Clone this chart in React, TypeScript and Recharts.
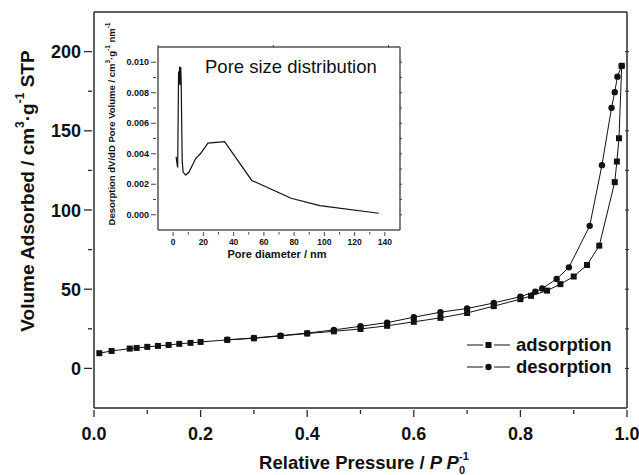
import React from 'react';
import { ScatterChart, Scatter, LineChart, Line, XAxis, YAxis, Legend } from 'recharts';

const FONT = '"Liberation Sans", Arial, Helvetica, sans-serif';
const INK = '#111';
const FRAME = '#2a2a2a';

// N2 isotherm - adsorption branch
const adsPressure = [0.01, 0.033, 0.067, 0.08, 0.1, 0.12, 0.14, 0.16, 0.181, 0.2, 0.25, 0.3, 0.35, 0.4, 0.45, 0.5, 0.55, 0.6, 0.65, 0.7, 0.75, 0.8, 0.82, 0.85, 0.875, 0.9, 0.925, 0.948, 0.977, 0.981, 0.985, 0.99];
const adsVolume = [9.6, 11.0, 12.5, 12.9, 13.6, 14.2, 14.8, 15.5, 16.1, 16.7, 18.0, 19.0, 20.5, 22.0, 23.4, 24.9, 26.9, 29.4, 31.9, 35.0, 39.3, 43.7, 45.8, 49.1, 53.2, 58.0, 65.3, 77.5, 117.6, 130.6, 145.3, 191.0];

// desorption branch
const desPressure = [0.99, 0.982, 0.977, 0.971, 0.953, 0.93, 0.891, 0.868, 0.841, 0.828, 0.8, 0.75, 0.7, 0.65, 0.6, 0.55, 0.5, 0.45, 0.4, 0.35, 0.3, 0.25];
const desVolume = [191.0, 184.2, 174.4, 164.5, 128.3, 90.0, 63.8, 56.5, 50.4, 48.5, 45.3, 41.3, 37.8, 35.5, 32.3, 28.9, 26.6, 24.3, 22.3, 20.7, 19.2, 18.1];

const xMajor = [0, 0.2, 0.4, 0.6, 0.8, 1.0];
const xMinor = [0.1, 0.3, 0.5, 0.7, 0.9];
const yMajor = [0, 50, 100, 150, 200];
const yMinor = [25, 75, 125, 175];

// inset: pore size distribution
const poreDiameter = [2.0, 2.5, 3.0, 3.6, 3.9, 4.3, 4.6, 5.0, 5.3, 6.0, 6.6, 8.3, 10.5, 13, 15, 18, 23, 34, 52, 78, 97, 136];
const poreVolume = [0.0038, 0.0034, 0.0031, 0.0094, 0.0086, 0.0097, 0.0085, 0.0097, 0.0088, 0.0035, 0.0028, 0.0026, 0.0028, 0.0033, 0.0037, 0.004, 0.0047, 0.0048, 0.00225, 0.00108, 0.0006, 0.0001];
const insetXMajor = [0, 20, 40, 60, 80, 100, 120, 140];
const insetXMinor = [10, 30, 50, 70, 90, 110, 130];
const insetYMajor = [0, 0.002, 0.004, 0.006, 0.008, 0.01];
const insetYMinor = [0.001, 0.003, 0.005, 0.007, 0.009];

const adsData = adsPressure.map((p, i) => ({ p, v: adsVolume[i] }));
const desData = desPressure.map((p, i) => ({ p, v: desVolume[i] }));
const insetData = poreDiameter.map((d, i) => ({ d, w: poreVolume[i] }));

const allX = [...xMajor, ...xMinor].sort((a, b) => a - b);
const allY = [...yMajor, ...yMinor].sort((a, b) => a - b);
const allInsetX = [...insetXMajor, ...insetXMinor].sort((a, b) => a - b);
const allInsetY = [...insetYMajor, ...insetYMinor].sort((a, b) => a - b);

const bold = { fontFamily: FONT, fontWeight: 'bold' as const, fill: INK };

const SquareDot = (props: any) => (
  <rect x={props.cx - 3} y={props.cy - 3} width={6} height={6} fill={INK} />
);
const CircleDot = (props: any) => <circle cx={props.cx} cy={props.cy} r={3.2} fill={INK} />;

const MainXTick = ({ x, y, payload }: any) => {
  const major = xMajor.includes(payload.value);
  return (
    <g>
      <line x1={x} x2={x} y1={y} y2={y + (major ? 7 : 4)} stroke={FRAME} strokeWidth={1.3} />
      {major && (
        <text x={x} y={y + 30} textAnchor="middle" fontSize={18} {...bold}>
          {payload.value.toFixed(1)}
        </text>
      )}
    </g>
  );
};

const MainYTick = ({ x, y, payload }: any) => {
  const major = yMajor.includes(payload.value);
  return (
    <g>
      <line x1={x - (major ? 8 : 4)} x2={x} y1={y} y2={y} stroke={FRAME} strokeWidth={1.3} />
      {major && (
        <text x={x - 11} y={y + 6.5} textAnchor="end" fontSize={18} {...bold}>
          {payload.value}
        </text>
      )}
    </g>
  );
};

// top / right frame: short inward ticks, no labels
const TopTick = ({ x, y }: any) => (
  <line x1={x} x2={x} y1={y} y2={y + 3} stroke={FRAME} strokeWidth={1} />
);
const RightTick = ({ x, y }: any) => (
  <line x1={x - 4} x2={x} y1={y} y2={y} stroke={FRAME} strokeWidth={1} />
);

const InsetXTick = ({ x, y, payload }: any) => {
  const major = insetXMajor.includes(payload.value);
  return (
    <g>
      <line x1={x} x2={x} y1={y} y2={y + (major ? 4 : 2.5)} stroke="#444" strokeWidth={1} />
      {major && (
        <text x={x} y={y + 13} textAnchor="middle" fontSize={8.5} {...bold}>
          {payload.value}
        </text>
      )}
    </g>
  );
};

const InsetYTick = ({ x, y, payload }: any) => {
  const major = insetYMajor.includes(payload.value);
  return (
    <g>
      <line x1={x - (major ? 5 : 3)} x2={x} y1={y} y2={y} stroke="#444" strokeWidth={1} />
      {major && (
        <text x={x - 7} y={y + 3.2} textAnchor="end" fontSize={9} {...bold}>
          {payload.value.toFixed(3)}
        </text>
      )}
    </g>
  );
};

const InsetTopTick = ({ x, y }: any) => (
  <line x1={x} x2={x} y1={y} y2={y + 2.5} stroke="#444" strokeWidth={1} />
);
const InsetRightTick = ({ x, y }: any) => (
  <line x1={x - 2.5} x2={x} y1={y} y2={y} stroke="#444" strokeWidth={1} />
);

const xTitle = () => (
  <text x={364} y={469} textAnchor="middle" fontSize={18.5} {...bold}>
    Relative Pressure / <tspan fontStyle="italic">P P</tspan>
    <tspan fontSize={11} dy={5}>0</tspan>
    <tspan fontSize={11} dx={-6} dy={-14}>-1</tspan>
  </text>
);

const yTitle = () => (
  <text
    x={27}
    y={191}
    transform="rotate(-90 27 191)"
    textAnchor="middle"
    dominantBaseline="central"
    fontSize={19}
    {...bold}
  >
    Volume Adsorbed / cm<tspan fontSize={12} dy={-7}>3</tspan>
    <tspan dy={7}>·g</tspan>
    <tspan fontSize={12} dy={-7}>-1</tspan>
    <tspan dy={7}> STP</tspan>
  </text>
);

const insetTexts = () => (
  <g>
    <text x={205} y={73} fontSize={18.5} fontFamily={FONT} fill={INK}>
      Pore size distribution
    </text>
    <text x={277} y={258} textAnchor="middle" fontSize={11} {...bold}>
      Pore diameter / nm
    </text>
    <text
      x={111}
      y={124}
      transform="rotate(-90 111 124)"
      textAnchor="middle"
      dominantBaseline="central"
      fontSize={9.5}
      {...bold}
    >
      Desorption dV/dD Pore Volume / cm<tspan fontSize={6.5} dy={-4}>3</tspan>
      <tspan dy={4}>·g</tspan>
      <tspan fontSize={6.5} dy={-4}>-1</tspan>
      <tspan dy={4}> nm</tspan>
      <tspan fontSize={6.5} dy={-4}>-1</tspan>
    </text>
  </g>
);

const LegendRow = ({ label, circle }: { label: string; circle?: boolean }) => (
  <div style={{ display: 'flex', alignItems: 'center', height: 22 }}>
    <svg width={50} height={22}>
      <line x1={1} x2={17} y1={11} y2={11} stroke={INK} strokeWidth={1} />
      <line x1={28} x2={44} y1={11} y2={11} stroke={INK} strokeWidth={1} />
      {circle ? (
        <circle cx={22.5} cy={11} r={3.2} fill={INK} />
      ) : (
        <rect x={19.5} y={8} width={6} height={6} fill={INK} />
      )}
    </svg>
    <span style={{ fontFamily: FONT, fontWeight: 'bold', fontSize: 18.5, color: INK }}>{label}</span>
  </div>
);

const renderLegend = () => (
  <div>
    <LegendRow label="adsorption" />
    <LegendRow label="desorption" circle />
  </div>
);

export default function App() {
  return (
    <div style={{ position: 'absolute', left: 0, top: 0, width: 639, height: 475, background: '#fff' }}>
      <div style={{ position: 'absolute', left: 0, top: 0 }}>
        <ScatterChart width={639} height={475} margin={{ top: 11, right: 11, bottom: 0, left: 0 }}>
          <XAxis
            type="number"
            dataKey="p"
            domain={[0, 1]}
            ticks={allX}
            interval={0}
            allowDataOverflow
            height={67}
            tickSize={0}
            tickLine={false}
            tick={<MainXTick />}
            axisLine={{ stroke: FRAME, strokeWidth: 1.5 }}
            label={xTitle}
          />
          <XAxis
            xAxisId="top"
            orientation="top"
            type="number"
            domain={[0, 1]}
            ticks={allX}
            interval={0}
            allowDataOverflow
            height={1}
            tickSize={0}
            tickLine={false}
            tick={<TopTick />}
            axisLine={{ stroke: FRAME, strokeWidth: 1.5 }}
          />
          <YAxis
            type="number"
            dataKey="v"
            domain={[-25, 225]}
            ticks={allY}
            interval={0}
            allowDataOverflow
            width={94}
            tickSize={0}
            tickLine={false}
            tick={<MainYTick />}
            axisLine={{ stroke: FRAME, strokeWidth: 1.5 }}
            label={yTitle}
          />
          <YAxis
            yAxisId="right"
            orientation="right"
            type="number"
            domain={[-25, 225]}
            ticks={allY}
            interval={0}
            allowDataOverflow
            width={1}
            tickSize={0}
            tickLine={false}
            tick={<RightTick />}
            axisLine={{ stroke: FRAME, strokeWidth: 1.5 }}
          />
          <Legend
            layout="vertical"
            align="center"
            verticalAlign="middle"
            wrapperStyle={{ left: 466, top: 334, width: 170, height: 46 }}
            content={renderLegend}
          />
          <Scatter
            name="adsorption"
            data={adsData}
            line={{ stroke: INK, strokeWidth: 1 }}
            lineType="joint"
            shape={SquareDot}
            fill={INK}
            isAnimationActive={false}
          />
          <Scatter
            name="desorption"
            data={desData}
            line={{ stroke: INK, strokeWidth: 1 }}
            lineType="joint"
            shape={CircleDot}
            fill={INK}
            isAnimationActive={false}
          />
        </ScatterChart>
      </div>
      <div style={{ position: 'absolute', left: 0, top: 0 }}>
        <LineChart width={405} height={270} data={insetData} margin={{ top: 46, right: 4, bottom: 0, left: 95 }}>
          <XAxis
            type="number"
            dataKey="d"
            domain={[-10, 150]}
            ticks={allInsetX}
            interval={0}
            allowDataOverflow
            height={40}
            tickSize={0}
            tickLine={false}
            tick={<InsetXTick />}
            axisLine={{ stroke: '#555', strokeWidth: 1.5 }}
            label={insetTexts}
          />
          <XAxis
            xAxisId="top"
            orientation="top"
            type="number"
            domain={[-10, 150]}
            ticks={allInsetX}
            interval={0}
            allowDataOverflow
            height={1}
            tickSize={0}
            tickLine={false}
            tick={<InsetTopTick />}
            axisLine={{ stroke: '#555', strokeWidth: 1.5 }}
          />
          <YAxis
            type="number"
            domain={[-0.001, 0.011]}
            ticks={allInsetY}
            interval={0}
            allowDataOverflow
            width={63}
            tickSize={0}
            tickLine={false}
            tick={<InsetYTick />}
            axisLine={{ stroke: '#555', strokeWidth: 1.5 }}
          />
          <YAxis
            yAxisId="right"
            orientation="right"
            type="number"
            domain={[-0.001, 0.011]}
            ticks={allInsetY}
            interval={0}
            allowDataOverflow
            width={1}
            tickSize={0}
            tickLine={false}
            tick={<InsetRightTick />}
            axisLine={{ stroke: '#555', strokeWidth: 1.5 }}
          />
          <Line
            type="linear"
            dataKey="w"
            stroke={INK}
            strokeWidth={1.2}
            dot={false}
            isAnimationActive={false}
          />
        </LineChart>
      </div>
    </div>
  );
}
